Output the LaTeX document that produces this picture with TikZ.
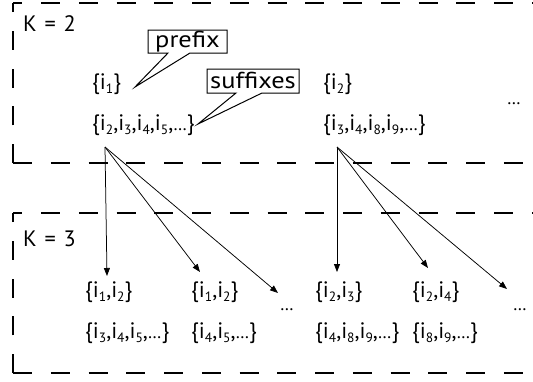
\documentclass[tikz,border=0pt]{standalone}
\usepackage{fontspec}
\setmainfont{PT Sans}
\usetikzlibrary{arrows.meta}
% item with a lowered index, e.g. i_3
\newcommand\ix[1]{i\raisebox{-4.6pt}{\fontsize{13.5}{13.5}\selectfont #1}}
% compact ellipsis
\newcommand\dts{\scalebox{0.8}{…}}
\begin{document}
\begin{tikzpicture}[x=1pt,y=-1pt,
  txt/.style={anchor=base west,inner sep=0pt,font=\fontsize{22.3}{24}\selectfont},
  tag/.style={anchor=center,inner sep=0pt,font=\fontsize{22}{24}\selectfont},
  frame/.style={line width=1.1pt,dash pattern=on 19pt off 18.75pt},
  framet/.style={frame,dash phase=9.75pt},
  arr/.style={line width=0.75pt,-{Triangle[length=8pt,width=6pt]}},
  callout/.style={line width=1pt,fill=white,line join=miter}]
\useasboundingbox (0,0) rectangle (533,381);

% dashed level frames (their right side runs off the page)
\draw[frame] (13,163) -- (13,3);
\draw[framet] (13,3) -- (560,3);
\draw[frame] (13,163) -- (560,163);
\draw[frame] (13,373) -- (13,213);
\draw[framet] (13,213) -- (560,213);
\draw[frame] (13,373) -- (560,373);

% level K = 2
\node[txt] (k2) at (23,31) {K\hspace{0.35em}=\hspace{0.35em}2};
\node[txt] (p1) at (92,89) {\{\ix1\}};
\node[txt] (s1) at (92,130) {\{\ix2,\ix3,\ix4,\ix5,\dts\}};
\node[txt] (p2) at (323,89) {\{\ix2\}};
\node[txt] (s2) at (323,130) {\{\ix3,\ix4,\ix8,\ix9,\dts\}};
\node[txt] (d0) at (507,104) {\dts};

% callouts
\coordinate (pt) at (135,87);
\draw[callout] (148,30) -- (227,30) -- (227,53) -- (190,53) -- (pt) -- (168,53) -- (148,53) -- cycle;
\node[tag] (pre) at (187.5,41.5) {\scalebox{1.2}[1.05]{prefix}};
\coordinate (st) at (198,124);
\draw[callout] (207,69) -- (299,69) -- (299,93) -- (262,93) -- (st) -- (236,93) -- (207,93) -- cycle;
\node[tag] (suf) at (253,80.5) {\scalebox{1.2}[1.05]{suffixes}};

% level K = 3
\node[txt] (k3) at (23,246) {K\hspace{0.35em}=\hspace{0.35em}3};
\node[txt] (a1) at (85,297) {\{\ix1,\ix2\}};
\node[txt] (b1) at (85,338) {\{\ix3,\ix4,\ix5,\dts\}};
\node[txt] (a2) at (191,297) {\{\ix1,\ix2\}};
\node[txt] (b2) at (191,338) {\{\ix4,\ix5,\dts\}};
\node[txt] (d1) at (280,310) {\dts};
\node[txt] (a3) at (315,297) {\{\ix2,\ix3\}};
\node[txt] (b3) at (315,338) {\{\ix4,\ix8,\ix9,\dts\}};
\node[txt] (a4) at (412,297) {\{\ix2,\ix4\}};
\node[txt] (b4) at (412,338) {\{\ix8,\ix9,\dts\}};
\node[txt] (d2) at (513,310) {\dts};

% extensions of each prefix
\coordinate (o1) at (105,147);
\coordinate (t11) at (107,276);
\coordinate (t12) at (200,272);
\coordinate (t13) at (278,293);
\coordinate (o2) at (337,147);
\coordinate (t21) at (337,272);
\coordinate (t22) at (428,268);
\coordinate (t23) at (507,289);
\draw[arr] (o1) -- (t11);
\draw[arr] (o1) -- (t12);
\draw[arr] (o1) -- (t13);
\draw[arr] (o2) -- (t21);
\draw[arr] (o2) -- (t22);
\draw[arr] (o2) -- (t23);
\end{tikzpicture}
\end{document}
